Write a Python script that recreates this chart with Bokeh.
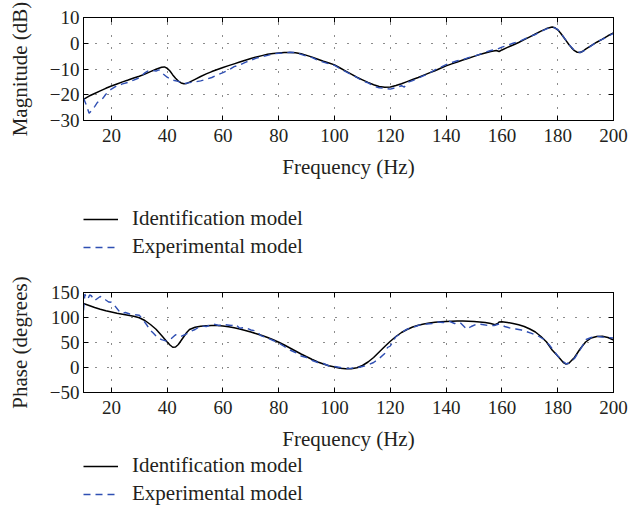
from bokeh.plotting import figure
from bokeh.layouts import column
from bokeh.models import LinearAxis, Legend, LegendItem, FixedTicker, Range1d
from bokeh.embed import file_html
from bokeh.resources import INLINE

# ---------------- data ----------------
freq_ticks = [20, 40, 60, 80, 100, 120, 140, 160, 180, 200]
mag_ticks = [-30, -20, -10, 0, 10]
phase_ticks = [-50, 0, 50, 100, 150]

mag_id_f = [10, 12, 14, 16, 18, 20, 22, 24, 26, 28, 30, 32, 34, 36, 38, 39, 40, 41, 42, 43, 44, 45, 46, 47, 48,
            50, 52, 54, 56, 58, 60, 62, 64, 66, 68, 70, 72, 74, 76, 78, 80, 82, 84, 86, 88, 90, 92, 94, 96, 98,
            100, 102, 104, 106, 108, 110, 112, 114, 116, 118, 120, 122, 124, 126, 128, 130, 132, 134, 136, 138,
            140, 142, 144, 146, 148, 150, 152, 154, 156, 158, 159, 160, 162, 164, 166, 168, 170, 172, 174, 176,
            178, 179, 180, 181, 182, 183, 184, 185, 186, 187, 188, 189, 190, 192, 194, 196, 198, 200]
mag_id_v = [-21.8, -20.5, -19.5, -18.5, -17.5, -16.6, -15.8, -15.0, -14.3, -13.5, -12.8, -12.0, -11.0, -10.1, -9.3,
            -9.2, -9.7, -10.8, -12.3, -13.6, -14.7, -15.4, -15.7, -15.6, -15.1,
            -14.0, -12.9, -11.9, -11.0, -10.2, -9.4, -8.7, -8.0, -7.3, -6.6, -5.9, -5.3, -4.8, -4.3, -4.0, -3.8,
            -3.6, -3.55, -3.7, -4.1, -4.7, -5.4, -6.2, -7.0, -7.7,
            -8.4, -9.6, -10.8, -12.0, -13.2, -14.2, -15.2, -16.1, -16.8, -17.1, -17.0, -16.4, -15.7, -14.9, -14.1,
            -13.3, -12.4, -11.5, -10.7, -9.7,
            -8.8, -8.0, -7.3, -6.5, -5.8, -5.1, -4.4, -3.8, -3.2, -2.8, -3.2, -2.6, -1.6, -0.7, 0.3, 1.4, 2.5, 3.6,
            4.7, 5.7,
            6.3, 6.0, 5.2, 4.0, 2.5, 1.0, -0.5, -1.8, -2.9, -3.5, -3.6, -3.1, -2.3, -0.9, 0.4, 1.6, 2.9, 4.0]

mag_ex_f = [10, 11, 12, 13, 14, 15, 16, 17, 18, 19, 20, 22, 24, 26, 28, 30, 32, 33, 34, 36, 37, 38, 40, 42, 44, 46,
            48, 50, 52, 54, 56, 58, 60, 62, 64, 66, 68, 70, 72, 74, 76, 78, 80, 82, 84, 86, 88, 90, 92, 94, 96, 98,
            100, 102, 104, 106, 108, 110, 112, 114, 116, 118, 120, 122, 124, 125, 126, 128, 130, 132, 134, 136, 138,
            140, 142, 144, 146, 148, 150, 152, 154, 156, 158, 160, 162, 164, 166, 168, 170, 172, 174, 176, 178, 180,
            182, 184, 186, 188, 190, 192, 194, 196, 198, 200]
mag_ex_v = [-21.3, -24.0, -27.2, -26.0, -24.6, -23.0, -22.0, -21.3, -19.8, -18.8, -17.8, -16.5, -15.8, -15.2, -14.3,
            -13.4, -11.5, -10.8, -10.5, -10.8, -10.3, -11.4, -13.2, -14.3, -14.8, -15.7,
            -15.3, -15.0, -14.6, -14.0, -13.3, -12.3, -11.4, -10.4, -9.1, -8.4, -7.4, -6.6, -5.8, -5.2, -4.7, -4.1,
            -3.9, -3.8, -3.5, -3.6, -4.3, -5.0, -5.6, -6.6, -7.3, -8.0,
            -8.6, -9.9, -11.0, -12.2, -13.3, -14.6, -15.4, -16.6, -17.3, -17.5, -17.8, -17.2, -16.5, -17.0, -15.3,
            -14.5, -13.6, -12.6, -11.6, -10.3, -9.3,
            -8.3, -7.5, -6.8, -6.4, -5.6, -5.0, -4.3, -3.5, -2.8, -2.4, -1.5, -0.8, 0.0, 0.6, 1.6, 2.6, 3.4, 4.6,
            5.6, 6.4, 5.4,
            2.6, -0.4, -2.8, -3.6, -2.6, -1.0, 0.5, 1.5, 2.7, 3.8]

ph_id_f = [10, 12, 14, 16, 18, 20, 22, 24, 26, 28, 30, 32, 34, 36, 38, 40, 41, 42, 43, 44, 45, 46, 47, 48, 50, 52,
           54, 56, 58, 60, 62, 64, 66, 68, 70, 72, 74, 76, 78, 80, 82, 84, 86, 88, 90, 92, 94, 96, 98, 100, 102,
           104, 106, 108, 110, 112, 114, 116, 118, 120, 122, 124, 126, 128, 130, 132, 134, 136, 138, 140, 142, 144,
           146, 148, 150, 152, 154, 156, 157.5, 158.5, 159, 160, 162, 164, 166, 168, 170, 172, 174, 176, 178, 180,
           182, 183, 184, 186, 188, 190, 192, 194, 196, 198, 200]
ph_id_v = [128, 124, 120, 116.5, 113.5, 111, 108.5, 106.5, 104.5, 102.5, 99.5, 94, 86, 76.5, 64, 51, 45, 40.5, 41,
           46, 54, 62, 70, 76, 80.5, 82.5,
           83.5, 84, 83.8, 83, 81.5, 79.5, 77, 74, 71, 67.5, 64, 60, 55.5, 50.5, 45, 39, 33, 27, 21.5, 16, 11, 7,
           3.5, 1, -1.5,
           -2.6, -2.5, -0.5, 4, 11, 20, 31, 42, 52.5, 62, 70, 76, 81, 84.5, 87, 89, 90.3, 91.3, 92, 92.5, 92.8,
           92.8, 92.5, 92, 91.2, 90, 88, 85.5, 88, 91, 91.5, 90, 88, 85.5, 82, 77, 71, 62, 51, 35, 23,
           10, 7, 8.5, 20, 37, 51, 59, 62, 62.5, 60, 55]

ph_ex_f = [10, 10.5, 11, 11.6, 12.2, 12.8, 13.5, 14, 15, 16, 17, 18, 19, 20, 21, 22, 23, 24, 25, 26.6, 28, 30, 31,
           32.7, 34, 35, 36.5, 38, 40, 41.5, 43, 44.9, 46.5, 48.3, 50, 52, 54, 56.7, 58.5, 60, 61.6, 63, 64.5, 66,
           68, 70, 72, 73.6, 76, 78, 80, 82, 84, 86, 88, 90, 92, 94, 96, 98, 100, 102, 104, 106, 108, 110, 112,
           114, 116, 118, 119, 120, 122, 123, 125.4, 127, 129, 131, 133, 135, 137, 139, 141, 143, 145, 147.4, 149,
           151, 153, 155, 157.2, 159, 161, 163.2, 165, 167, 170.4, 173, 175.2, 177, 180, 182, 183, 184, 186, 188,
           190.2, 192, 194.3, 196, 198, 200]
ph_ex_v = [114, 147, 138, 137, 145, 143.5, 138, 133.8, 138, 142, 140, 135, 131, 130.5, 125, 118, 111, 108, 110, 107,
           106, 104.5, 98, 85, 74, 68.8, 60, 55.8, 52.6, 58, 65.6, 62, 66, 72, 76, 83, 82, 87, 84, 86, 85, 84, 86,
           78.6, 80, 75, 73, 63.6, 59, 54, 49, 42, 35, 30, 23, 20, 14, 10, 8, 3, 2, 0, -2, -1.5, -0.5, 2, 5,
           10, 18, 28, 40, 43, 62, 65, 75, 79, 82, 86, 87, 88, 91, 90, 93, 88, 90, 76.6, 82,
           87, 86, 84, 84, 87, 82, 78.6, 77, 75, 68.8, 63, 55.8, 45, 23, 12, 7, 9, 18, 35,
           56, 60, 62.3, 61, 60, 59]

labels = ["Identification model", "Experimental model"]

# ---------------- style ----------------
FONT = "Liberation Serif"
TICK_FS = "19px"
TEXT_FS = "21px"
TXT = "#231f20"
BLUE = "#2f4fb3"
W = 628


def minus(v):
    return str(v).replace("-", "\u2212")


def panel(height, top, bottom, ylabel, yticks, yrange, fid, vid, fex, vex):
    p = figure(width=W, height=height, output_backend="svg", toolbar_location=None,
               x_range=Range1d(10, 200), y_range=Range1d(*yrange),
               min_border_left=83, min_border_right=15, min_border_top=top, min_border_bottom=bottom,
               x_axis_label="Frequency (Hz)", y_axis_label=ylabel)
    p.outline_line_color = "black"
    p.outline_line_alpha = 1
    p.background_fill_color = "white"
    p.border_fill_color = "white"

    xt = FixedTicker(ticks=freq_ticks)
    yt = FixedTicker(ticks=yticks)
    for ax, t in ((p.xaxis[0], xt), (p.yaxis[0], yt)):
        ax.ticker = t
        ax.major_tick_in = 5
        ax.major_tick_out = 0
        ax.minor_tick_line_color = None
        ax.axis_line_color = "black"
        ax.major_tick_line_color = "black"
        ax.major_label_text_font = FONT
        ax.major_label_text_font_size = TICK_FS
        ax.major_label_text_color = TXT
        ax.axis_label_text_font = FONT
        ax.axis_label_text_font_size = TEXT_FS
        ax.axis_label_text_font_style = "normal"
        ax.axis_label_text_color = TXT
    p.yaxis[0].major_label_overrides = {v: minus(v) for v in yticks}
    p.yaxis[0].major_label_standoff = 4
    p.yaxis[0].axis_label_standoff = 15
    p.xaxis[0].major_label_standoff = 8
    p.xaxis[0].axis_label_standoff = 10

    top_ax = LinearAxis(ticker=xt, major_label_text_color=None, major_label_text_font_size="1px",
                        major_tick_in=5, major_tick_out=0, minor_tick_line_color=None, major_label_standoff=0)
    right_ax = LinearAxis(ticker=yt, major_label_text_color=None, major_label_text_font_size="1px",
                          major_tick_in=5, major_tick_out=0, minor_tick_line_color=None, major_label_standoff=0)
    p.add_layout(top_ax, "above")
    p.add_layout(right_ax, "right")

    for g in (p.xgrid[0], p.ygrid[0]):
        g.grid_line_color = "black"
        g.grid_line_dash = "1 11"
        g.grid_line_width = 1
        g.grid_line_alpha = 0.9
    p.xgrid[0].ticker = xt
    p.ygrid[0].ticker = yt

    p.line(fid, vid, line_color="black", line_width=1.5)
    p.line(fex, vex, line_color=BLUE, line_width=1.4, line_dash="7 5")
    return p


def legend_fig(height, top, spacing, fid, vid, fex, vex):
    # legend-only strip; the series lie outside its (0,1) ranges so only the key shows
    lf = figure(width=W, height=height, output_backend="svg", toolbar_location=None,
                x_axis_type=None, y_axis_type=None, x_range=Range1d(0, 1), y_range=Range1d(0, 1),
                min_border_left=83, min_border_right=0, min_border_top=top, min_border_bottom=0)
    lf.outline_line_color = None
    lf.background_fill_color = "white"
    lf.border_fill_color = "white"
    r_id = lf.line(fid, vid, line_color="black", line_width=1.5)
    r_ex = lf.line(fex, vex, line_color=BLUE, line_width=1.4, line_dash="7 5")
    leg = Legend(items=[LegendItem(label=labels[0], renderers=[r_id]),
                        LegendItem(label=labels[1], renderers=[r_ex])],
                 location="top_left", orientation="vertical", glyph_width=35, glyph_height=20,
                 label_standoff=14, spacing=spacing, padding=0, margin=0,
                 border_line_color=None, background_fill_alpha=0,
                 label_text_font=FONT, label_text_font_size=TEXT_FS, label_text_color=TXT,
                 label_height=20)
    lf.add_layout(leg, "center")
    return lf


p1 = panel(200, 17, 80, "Magnitude (dB)", mag_ticks, (-30, 10), mag_id_f, mag_id_v, mag_ex_f, mag_ex_v)
l1 = legend_fig(60, 6, 3, mag_id_f, mag_id_v, mag_ex_f, mag_ex_v)
p2 = panel(193, 32, 60, "Phase (degrees)", phase_ticks, (-50, 150), ph_id_f, ph_id_v, ph_ex_f, ph_ex_v)
l2 = legend_fig(53, 0, 3, ph_id_f, ph_id_v, ph_ex_f, ph_ex_v)

layout = column(p1, l1, p2, l2, spacing=0)
open("out.html", "w").write(file_html(layout, INLINE))
